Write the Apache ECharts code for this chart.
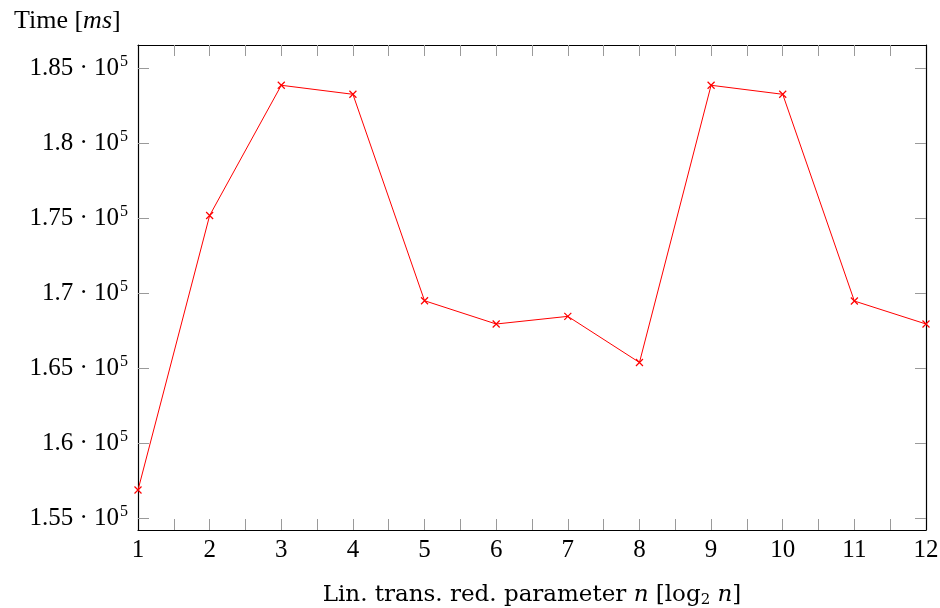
<!DOCTYPE html>
<html><head><meta charset="utf-8">
<script src="https://cdn.jsdelivr.net/npm/echarts@6/dist/echarts.min.js"></script>
<style>html,body{margin:0;padding:0;background:#fff}#c{width:940px;height:608px}</style>
</head><body><div id="c"></div>
<script>
const xValues = [1,2,3,4,5,6,7,8,9,10,11,12];
const timeMs = [156910,175180,183850,183250,169510,167960,168470,165400,183850,183250,169490,167960];
const yTickValues = [155000,160000,165000,170000,175000,180000,185000];
const yTickMantissas = ['1.55','1.6','1.65','1.7','1.75','1.8','1.85'];
const xTickInner = [2,3,4,5,6,7,8,9,10,11];

const FONT = '"Liberation Serif", serif';
const FONT2 = '"DejaVu Serif", serif';
const chart = echarts.init(document.getElementById('c'));
const tickStyle = {color:'#9a9a9a', width:1};
function yfmt(v){
  const i = yTickValues.indexOf(v);
  if (i < 0) return '';
  return '{a|' + yTickMantissas[i] + ' · 10}{s|5}';
}
const richLbl = {
  a:{fontFamily:FONT,fontSize:25,color:'#000'},
  s:{fontFamily:FONT,fontSize:16,color:'#000',padding:[0,0,13,1]}
};
chart.setOption({
  animation:false,
  backgroundColor:'#fff',
  title:{
    text:'{a|Time [}{i|ms}{a|]}',
    left:9, top:3,
    textStyle:{fontWeight:'normal',rich:{
      a:{fontFamily:FONT,fontSize:26,fontWeight:'normal',color:'#000'},
      i:{fontFamily:FONT,fontSize:26,fontStyle:'italic',fontWeight:'normal',color:'#000'}}}
  },
  grid:{left:138,right:14,top:45,bottom:78,containLabel:false,outerBoundsMode:'none'},
  xAxis:[{
    type:'value',min:1,max:12,interval:1,position:'bottom',
    axisLine:{onZero:false,lineStyle:{color:'#000',width:1.2}},
    axisTick:{inside:true,length:11,lineStyle:tickStyle,customValues:xTickInner},
    minorTick:{show:true,splitNumber:2,length:11,lineStyle:tickStyle},
    splitLine:{show:false},
    axisLabel:{fontFamily:FONT,fontSize:25,color:'#000',margin:8,customValues:xValues},
    name:'{a|Lin. trans. red. parameter }{i|n}{a| [log}{s|2}{a| }{i|n}{a|]}',
    nameLocation:'middle',nameGap:53,
    nameTextStyle:{rich:{
      a:{fontFamily:FONT2,fontSize:23,color:'#000'},
      i:{fontFamily:FONT2,fontSize:23,fontStyle:'italic',color:'#000'},
      s:{fontFamily:FONT2,fontSize:15,color:'#000',padding:[10,0,0,0]}
    }}
  },{
    type:'value',min:1,max:12,interval:1,position:'top',
    axisLine:{show:true,onZero:false,lineStyle:{color:'#000',width:1.2}},
    axisTick:{inside:true,length:11,lineStyle:tickStyle,customValues:xTickInner},
    minorTick:{show:true,splitNumber:2,length:11,lineStyle:tickStyle},
    splitLine:{show:false},axisLabel:{show:false}
  }],
  yAxis:[{
    type:'value',min:154250,max:186530,splitNumber:6,position:'left',
    axisLine:{show:true,onZero:false,lineStyle:{color:'#000',width:1.2}},
    axisTick:{inside:true,length:11,lineStyle:tickStyle,customValues:yTickValues},
    splitLine:{show:false},
    axisLabel:{formatter:yfmt,rich:richLbl,margin:10,customValues:yTickValues}
  },{
    type:'value',min:154250,max:186530,splitNumber:6,position:'right',
    axisLine:{show:true,onZero:false,lineStyle:{color:'#000',width:1.2}},
    axisTick:{inside:true,length:11,lineStyle:tickStyle,customValues:yTickValues},
    splitLine:{show:false},axisLabel:{show:false}
  }],
  series:[{
    type:'line',xAxisIndex:0,yAxisIndex:0,
    data:xValues.map((x,i)=>[x,timeMs[i]]),
    lineStyle:{color:'#ff0000',width:1},
    symbol:'path://M0,0L10,10M10,0L0,10',symbolSize:7,
    itemStyle:{color:'#ff0000',borderColor:'#ff0000',borderWidth:1.2},
    showSymbol:true,clip:false
  }]
});
</script></body></html>
